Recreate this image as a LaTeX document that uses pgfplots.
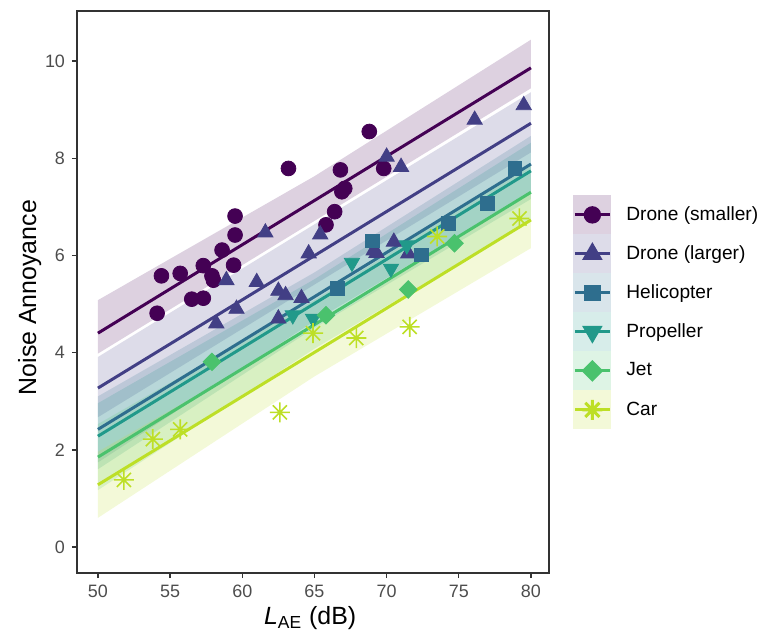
\documentclass[border=0pt]{standalone}
\usepackage{fontspec}
\setmainfont{Liberation Sans}
\usepackage{pgfplots}
\pgfplotsset{compat=1.18}
\definecolor{cA}{HTML}{440154}
\definecolor{cB}{HTML}{423F85}
\definecolor{cC}{HTML}{2E6E8E}
\definecolor{cD}{HTML}{21998A}
\definecolor{cE}{HTML}{4AC26D}
\definecolor{cF}{HTML}{BDDF26}
\definecolor{tickgrey}{HTML}{4D4D4D}
\pgfdeclareplotmark{ast8}{%
  \pgfpathmoveto{\pgfqpoint{-\pgfplotmarksize}{0pt}}\pgfpathlineto{\pgfqpoint{\pgfplotmarksize}{0pt}}%
  \pgfpathmoveto{\pgfqpoint{0pt}{-\pgfplotmarksize}}\pgfpathlineto{\pgfqpoint{0pt}{\pgfplotmarksize}}%
  \pgfpathmoveto{\pgfqpoint{-0.7071\pgfplotmarksize}{-0.7071\pgfplotmarksize}}\pgfpathlineto{\pgfqpoint{0.7071\pgfplotmarksize}{0.7071\pgfplotmarksize}}%
  \pgfpathmoveto{\pgfqpoint{-0.7071\pgfplotmarksize}{0.7071\pgfplotmarksize}}\pgfpathlineto{\pgfqpoint{0.7071\pgfplotmarksize}{-0.7071\pgfplotmarksize}}%
  \pgfusepathqstroke}
\pgfplotsset{
  bandkey/.style={legend image code/.code={\fill[#1!18] (0bp,-9bp) rectangle (17.5bp,9bp); \draw[mark repeat=2,mark phase=2,##1] plot coordinates {(0bp,0bp) (8.75bp,0bp) (17.5bp,0bp)};}}
}
\begin{document}
\begin{tikzpicture}
\useasboundingbox (-38.5bp,-28.5bp) rectangle (342bp,286.5bp);
\begin{axis}[
  scale only axis, width=236bp, height=281bp,
  xmin=48.55, xmax=81.25, ymin=-0.535, ymax=11.03,
  xtick={50,55,...,80}, ytick={0,2,...,10},
  xtick pos=bottom, ytick pos=left,
  tick align=outside, major tick length=2.5bp,
  every tick/.style={draw=black!80, line width=0.7bp},
  axis line style={draw=black!80, line width=0.7bp},
  /pgf/number format/assume math mode=true,
  ticklabel style={font=\fontsize{9}{10}\selectfont, text=tickgrey},
  xlabel={\textit{L}\textsubscript{AE} (dB)},
  ylabel={Noise Annoyance},
  label style={font=\fontsize{12.5}{14}\selectfont},
  xlabel style={at={(axis description cs:0.494,-0.08)}, anchor=center},
  ylabel style={at={(axis description cs:-0.1,0.49)}, anchor=center},
  legend cell align=left,
  legend style={at={(1.0508,0.6726)}, anchor=north west, draw=none, fill=none, inner sep=0pt,
    row sep=0bp, font=\fontsize{9.6}{11}\selectfont,
    nodes={inner sep=1.5bp},
    /tikz/every odd column/.append style={column sep=6bp}},
]
% ---- confidence bands ----
\addplot[forget plot, fill=cA, fill opacity=0.18, draw=none] coordinates {(50,5.08) (65,7.63) (80,10.44) (80,9.44) (65,6.71) (50,3.98)} -- cycle;
\addplot[forget plot, fill=cB, fill opacity=0.18, draw=none] coordinates {(50,3.91) (65,6.64) (80,9.36) (80,8.12) (65,5.40) (50,2.67)} -- cycle;
\addplot[forget plot, fill=cC, fill opacity=0.18, draw=none] coordinates {(50,3.10) (65,5.65) (80,8.46) (80,7.30) (65,4.65) (50,1.74)} -- cycle;
\addplot[forget plot, fill=cD, fill opacity=0.18, draw=none] coordinates {(50,2.96) (65,5.51) (80,8.32) (80,7.16) (65,4.51) (50,1.60)} -- cycle;
\addplot[forget plot, fill=cE, fill opacity=0.18, draw=none] coordinates {(50,2.53) (65,5.08) (80,7.88) (80,6.72) (65,4.08) (50,1.17)} -- cycle;
\addplot[forget plot, fill=cF, fill opacity=0.18, draw=none] coordinates {(50,1.96) (65,4.51) (80,7.31) (80,6.15) (65,3.51) (50,0.60)} -- cycle;
% ---- fitted lines ----
\addplot[forget plot, cA, line width=1.5bp] coordinates {(50,4.40) (80,9.86)};
\addplot[forget plot, cB, line width=1.5bp] coordinates {(50,3.27) (80,8.72)};
\addplot[forget plot, cC, line width=1.5bp] coordinates {(50,2.42) (80,7.88)};
\addplot[forget plot, cD, line width=1.5bp] coordinates {(50,2.28) (80,7.74)};
\addplot[forget plot, cE, line width=1.5bp] coordinates {(50,1.85) (80,7.30)};
\addplot[forget plot, cF, line width=1.5bp] coordinates {(50,1.28) (80,6.73)};
% ---- points ----
\addplot[forget plot, only marks, cA, mark=*, mark size=3.7bp] coordinates {
(54.1,4.81) (54.4,5.58) (55.7,5.63) (56.5,5.10) (57.3,5.12) (57.3,5.79) (57.9,5.58) (58.0,5.49)
(58.6,6.11) (59.4,5.80) (59.5,6.42) (59.5,6.81) (63.2,7.79) (65.8,6.63) (66.4,6.90) (66.8,7.76)
(66.9,7.31) (67.1,7.38) (68.8,8.55) (69.8,7.79)};
\addplot[forget plot, only marks, cB, mark=triangle*, mark size=4.4bp] coordinates {
(58.2,4.60) (58.9,5.49) (59.6,4.90) (61.0,5.45) (61.6,6.47) (62.5,5.27) (62.5,4.70) (63.0,5.18)
(64.1,5.12) (64.6,6.04) (65.4,6.43) (69.1,6.10) (69.3,6.05) (70.0,8.03) (70.5,6.28) (71.0,7.82)
(71.5,6.04) (76.1,8.79) (79.5,9.09)};
\addplot[forget plot, only marks, cC, mark=square*, mark size=3.4bp] coordinates {
(66.6,5.32) (69.0,6.30) (72.4,6.01) (74.3,6.66) (77.0,7.07) (78.9,7.79)};
\addplot[forget plot, only marks, cD, mark=triangle*, mark size=4.4bp, mark options={rotate=180}] coordinates {
(63.5,4.77) (64.9,4.70) (67.6,5.85) (70.3,5.73) (71.4,6.21)};
\addplot[forget plot, only marks, cE, mark=square*, mark size=3.1bp, mark options={rotate=45}] coordinates {
(57.9,3.81) (65.8,4.77) (71.5,5.30) (74.7,6.25)};
\addplot[forget plot, only marks, cF, mark=ast8, mark size=5bp, line width=0.8bp] coordinates {
(51.8,1.38) (53.8,2.22) (55.7,2.42) (62.6,2.77) (64.9,4.40) (67.9,4.30) (71.6,4.53) (73.5,6.39) (79.2,6.76)};
% ---- legend ----
\addlegendimage{cA, line width=1.5bp, mark=*, mark size=3.6bp, bandkey=cA}
\addlegendentry{Drone (smaller)}
\addlegendimage{cB, line width=1.5bp, mark=triangle*, mark size=4.4bp, bandkey=cB}
\addlegendentry{Drone (larger)}
\addlegendimage{cC, line width=1.5bp, mark=square*, mark size=3.4bp, bandkey=cC}
\addlegendentry{Helicopter}
\addlegendimage{cD, line width=1.5bp, mark=triangle*, mark size=4.4bp, mark options={rotate=180}, bandkey=cD}
\addlegendentry{Propeller}
\addlegendimage{cE, line width=1.5bp, mark=square*, mark size=3.1bp, mark options={rotate=45}, bandkey=cE}
\addlegendentry{Jet}
\addlegendimage{cF, line width=1.5bp, mark=ast8, mark size=5bp, bandkey=cF}
\addlegendentry{Car}
\end{axis}
\end{tikzpicture}
\end{document}
